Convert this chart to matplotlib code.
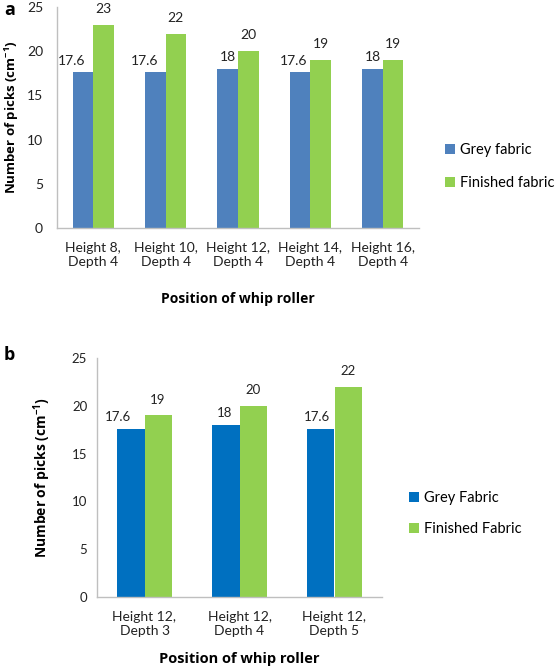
import matplotlib
matplotlib.use("Agg")
import matplotlib.pyplot as plt
import numpy as np

plt.rcParams['font.family'] = ['Lato', 'DejaVu Sans']

# ---- data ----
cats_a = ["Height 8,\nDepth 4", "Height 10,\nDepth 4", "Height 12,\nDepth 4",
          "Height 14,\nDepth 4", "Height 16,\nDepth 4"]
grey_a = [17.6, 17.6, 18, 17.6, 18]
finished_a = [23, 22, 20, 19, 19]

cats_b = ["Height 12,\nDepth 3", "Height 12,\nDepth 4", "Height 12,\nDepth 5"]
grey_b = [17.6, 18, 17.6]
finished_b = [19, 20, 22]

yticks = [0, 5, 10, 15, 20, 25]

W, H = 555, 667
fig = plt.figure(figsize=(W / 100, H / 100), dpi=100)

BOLD = dict(family=['Open Sans', 'DejaVu Sans'], fontweight='bold')

def px_axes(x0, y0, x1, y1):
    return fig.add_axes([x0 / W, 1 - y1 / H, (x1 - x0) / W, (y1 - y0) / H])

def fmt(v):
    return f"{v:g}"

def draw(ax, cats, grey, fin, c_grey, c_fin, lab_grey, lab_fin, tick_fs, xt_fs,
         val_fs, leg_fs, leg_anchor, blue_dx, ypad, spacing, ylab_fs, xlab_fs):
    x = np.arange(len(cats))
    w = 0.285
    b1 = ax.bar(x - w / 2, grey, w, color=c_grey, label=lab_grey)
    b2 = ax.bar(x + w / 2, fin, w, color=c_fin, label=lab_fin)
    for i, r in enumerate(b1):
        ax.annotate(fmt(grey[i]), (r.get_x() + r.get_width() / 2, r.get_height()),
                    xytext=(blue_dx[i], 4), textcoords='offset points',
                    ha='center', va='bottom', fontsize=val_fs, color='#222222')
    for i, r in enumerate(b2):
        ax.annotate(fmt(fin[i]), (r.get_x() + r.get_width() / 2, r.get_height()),
                    xytext=(0, 7), textcoords='offset points',
                    ha='center', va='bottom', fontsize=val_fs, color='#222222')
    ax.set_xlim(-0.5, len(cats) - 0.5)
    ax.set_ylim(0, 25)
    ax.set_yticks(yticks)
    ax.set_xticks(x)
    ax.set_xticklabels(cats, fontsize=xt_fs, color='#222222')
    ax.tick_params(axis='y', labelsize=tick_fs, length=0, pad=ypad, colors='#222222')
    ax.tick_params(axis='x', length=0, pad=10)
    for s in ['top', 'right']:
        ax.spines[s].set_visible(False)
    for s in ['left', 'bottom']:
        ax.spines[s].set_color('#bfbfbf')
        ax.spines[s].set_linewidth(1.0)
    ax.set_ylabel(r'Number of picks (cm$^{\mathregular{-1}}$)', fontsize=ylab_fs, **BOLD)
    ax.set_xlabel('Position of whip roller', fontsize=xlab_fs, **BOLD)
    ax.legend(loc='center left', bbox_to_anchor=leg_anchor, frameon=False,
              fontsize=leg_fs, handlelength=0.7, handleheight=0.7,
              handletextpad=0.3, labelspacing=spacing, borderaxespad=0,
              borderpad=0)
    return ax

# panel a
ax_a = px_axes(57, 7, 419, 228)
draw(ax_a, cats_a, grey_a, finished_a, '#4f81bd', '#92d050',
     'Grey fabric', 'Finished fabric', 10, 10, 10, 10.5, (1.072, 0.278),
     [-8, -8, 0, -5, 0], 10, 1.35, 9.5, 10)
ax_a.yaxis.set_label_coords(-0.1, 0.5)
ax_a.xaxis.set_label_coords(0.5, -0.29)

# panel b
ax_b = px_axes(97, 358, 382, 597)
draw(ax_b, cats_b, grey_b, finished_b, '#0070c0', '#92d050',
     'Grey Fabric', 'Finished Fabric', 9.5, 10, 9.5, 10.5, (1.095, 0.349),
     [-9, -1, -3], 7, 1.2, 10, 10.5)
ax_b.yaxis.set_label_coords(-0.155, 0.5)
ax_b.xaxis.set_label_coords(0.5, -0.23)

fig.text(4 / W, 1 - 10 / H, 'a', fontsize=13, va='center', ha='left', **BOLD)
fig.text(4 / W, 1 - 355 / H, 'b', fontsize=13, va='center', ha='left', **BOLD)

fig.savefig('out.png', dpi=100)
